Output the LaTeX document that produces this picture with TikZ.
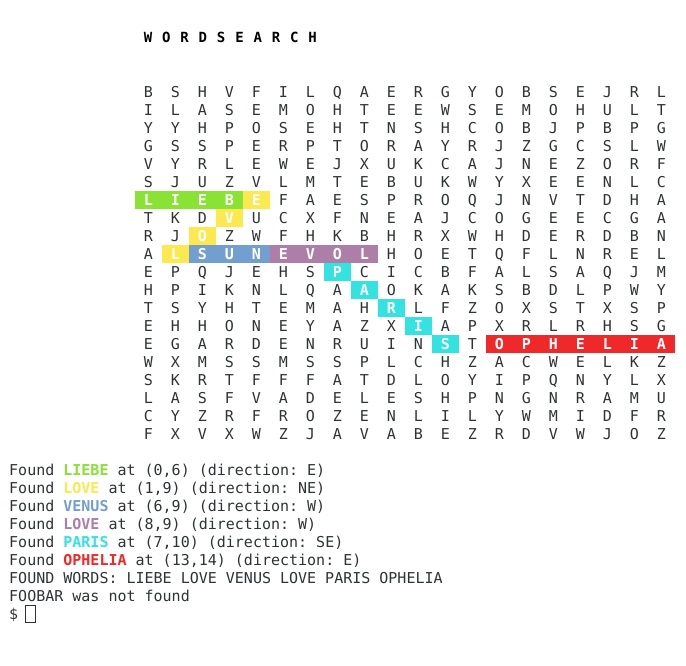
\documentclass[tikz,border=0pt]{standalone}
\usepackage{fontspec}
\setmonofont{DejaVu Sans Mono}
\definecolor{termfg}{HTML}{2E3436}
\definecolor{hlgreen}{HTML}{8AE234}
\definecolor{hlyellow}{HTML}{FCE94F}
\definecolor{hlblue}{HTML}{729FCF}
\definecolor{hlpurple}{HTML}{AD7FA8}
\definecolor{hlcyan}{HTML}{34E2E2}
\definecolor{hlred}{HTML}{EF2929}
\newcommand{\termfont}{\ttfamily\fontsize{15}{18}\selectfont}
\newcommand{\hitword}[2]{\textbf{\textcolor{#1}{#2}}}

\begin{document}
\begin{tikzpicture}[x=1pt,y=-1pt,
	cell/.style={minimum width=27pt,minimum height=18pt,inner sep=0pt,
		text height=11pt,text depth=0pt,font=\termfont,text=termfg},
	hit/.style={cell,fill=#1,text=white,font=\termfont\bfseries},
	titlech/.style={inner sep=0pt,text height=10pt,text depth=0pt,
		font=\ttfamily\bfseries\fontsize{14}{16}\selectfont,text=black},
	outline/.style={anchor=base west,inner sep=0pt,font=\termfont,text=termfg}]
	\useasboundingbox[fill=white] (0,0) rectangle (686,665);

	% title
	\foreach \ch [count=\i from 0] in {W,O,R,D,S,E,A,R,C,H}
		\node[titlech] (t-\i) at ({148+18.3*\i},37.5) {\ch};

	% letter grid
	\foreach \rowlist [count=\r from 0] in {
		{B,S,H,V,F,I,L,Q,A,E,R,G,Y,O,B,S,E,J,R,L},
		{I,L,A,S,E,M,O,H,T,E,E,W,S,E,M,O,H,U,L,T},
		{Y,Y,H,P,O,S,E,H,T,N,S,H,C,O,B,J,P,B,P,G},
		{G,S,S,P,E,R,P,T,O,R,A,Y,R,J,Z,G,C,S,L,W},
		{V,Y,R,L,E,W,E,J,X,U,K,C,A,J,N,E,Z,O,R,F},
		{S,J,U,Z,V,L,M,T,E,B,U,K,W,Y,X,E,E,N,L,C},
		{L,I,E,B,E,F,A,E,S,P,R,O,Q,J,N,V,T,D,H,A},
		{T,K,D,V,U,C,X,F,N,E,A,J,C,O,G,E,E,C,G,A},
		{R,J,O,Z,W,F,H,K,B,H,R,X,W,H,D,E,R,D,B,N},
		{A,L,S,U,N,E,V,O,L,H,O,E,T,Q,F,L,N,R,E,L},
		{E,P,Q,J,E,H,S,P,C,I,C,B,F,A,L,S,A,Q,J,M},
		{H,P,I,K,N,L,Q,A,A,O,K,A,K,S,B,D,L,P,W,Y},
		{T,S,Y,H,T,E,M,A,H,R,L,F,Z,O,X,S,T,X,S,P},
		{E,H,H,O,N,E,Y,A,Z,X,I,A,P,X,R,L,R,H,S,G},
		{E,G,A,R,D,E,N,R,U,I,N,S,T,O,P,H,E,L,I,A},
		{W,X,M,S,S,M,S,S,P,L,C,H,Z,A,C,W,E,L,K,Z},
		{S,K,R,T,F,F,F,A,T,D,L,O,Y,I,P,Q,N,Y,L,X},
		{L,A,S,F,V,A,D,E,L,E,S,H,P,N,G,N,R,A,M,U},
		{C,Y,Z,R,F,R,O,Z,E,N,L,I,L,Y,W,M,I,D,F,R},
		{F,X,V,X,W,Z,J,A,V,A,B,E,Z,R,D,V,W,J,O,Z}}
		\foreach \ch [count=\c from 0] in \rowlist
			\node[cell] (g-\r-\c) at ({148.5+27*\c},{91.5+18*\r}) {\ch};

	% found words
	\foreach \r/\c/\ch/\col in {
		6/0/L/hlgreen,6/1/I/hlgreen,6/2/E/hlgreen,6/3/B/hlgreen,
		9/1/L/hlyellow,8/2/O/hlyellow,7/3/V/hlyellow,6/4/E/hlyellow,
		9/2/S/hlblue,9/3/U/hlblue,9/4/N/hlblue,
		9/5/E/hlpurple,9/6/V/hlpurple,9/7/O/hlpurple,9/8/L/hlpurple,
		10/7/P/hlcyan,11/8/A/hlcyan,12/9/R/hlcyan,13/10/I/hlcyan,14/11/S/hlcyan,
		14/13/O/hlred,14/14/P/hlred,14/15/H/hlred,14/16/E/hlred,
		14/17/L/hlred,14/18/I/hlred,14/19/A/hlred}
		\node[hit=\col] (h-\r-\c) at ({148.5+27*\c},{91.5+18*\r}) {\ch};

	% terminal output
	\node[outline] (o1) at (9,475) {Found \hitword{hlgreen}{LIEBE} at (0,6) (direction: E)};
	\node[outline] (o2) at (9,493) {Found \hitword{hlyellow}{LOVE} at (1,9) (direction: NE)};
	\node[outline] (o3) at (9,511) {Found \hitword{hlblue}{VENUS} at (6,9) (direction: W)};
	\node[outline] (o4) at (9,529) {Found \hitword{hlpurple}{LOVE} at (8,9) (direction: W)};
	\node[outline] (o5) at (9,547) {Found \hitword{hlcyan}{PARIS} at (7,10) (direction: SE)};
	\node[outline] (o6) at (9,565) {Found \hitword{hlred}{OPHELIA} at (13,14) (direction: E)};
	\node[outline] (o7) at (9,583) {FOUND WORDS: LIEBE LOVE VENUS LOVE PARIS OPHELIA};
	\node[outline] (o8) at (9,601) {FOOBAR was not found};
	\node[outline] (o9) at (9,619) {\$};
	\node[draw=termfg,minimum width=10pt,minimum height=17pt,inner sep=0pt] (cursor) at (30.5,613.5) {};
\end{tikzpicture}
\end{document}
